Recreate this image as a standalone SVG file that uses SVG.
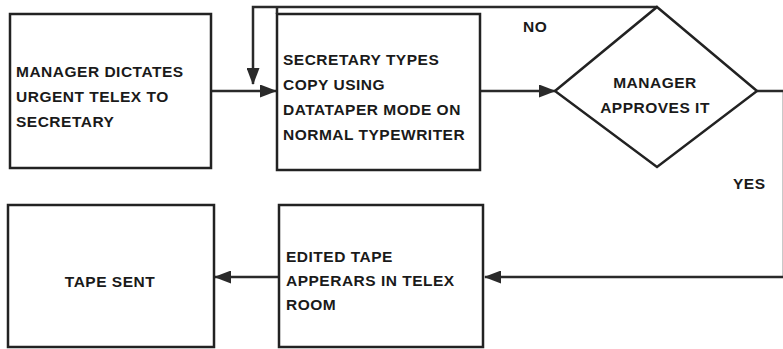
<svg xmlns="http://www.w3.org/2000/svg" width="783" height="349" viewBox="0 0 783 349">
  <style>
    .box { fill: #ffffff; stroke: #222; stroke-width: 2.5; }
    .wire { fill: none; stroke: #2a2a2a; stroke-width: 2.5; }
    .lbl { font-family: "Liberation Sans", Arial, sans-serif; font-weight: bold; font-size: 15.5px; letter-spacing: 0.5px; fill: #1a1a1a; }
    .mid { text-anchor: middle; }
  </style>
  <defs>
    <marker id="head" viewBox="0 0 17 13" refX="16" refY="6.5" markerWidth="17" markerHeight="13" markerUnits="userSpaceOnUse" orient="auto">
      <path d="M0,0 L17,6.5 L0,13 Z" fill="#2a2a2a"/>
    </marker>
  </defs>

  <rect width="783" height="349" fill="#ffffff"/>

  <g id="connectors">
    <!-- dictation to typing -->
    <line class="wire" x1="211" y1="91" x2="276" y2="91" marker-end="url(#head)"/>
    <!-- typing to approval -->
    <line class="wire" x1="480" y1="91" x2="555" y2="91" marker-end="url(#head)"/>
    <!-- rejection loop back over the top -->
    <path class="wire" d="M657,7 H253 V84" marker-end="url(#head)"/>
    <!-- approval path down the right side (mostly past the edge) -->
    <path class="wire" d="M757,91 H784 V277 H485" marker-end="url(#head)"/>
    <!-- telex room to sent -->
    <line class="wire" x1="279" y1="277" x2="215" y2="277" marker-end="url(#head)"/>
    <text class="lbl" x="523" y="32">NO</text>
    <text class="lbl" x="733" y="189">YES</text>
  </g>

  <g id="dictate">
    <rect class="box" x="10" y="14" width="201" height="154"/>
    <text class="lbl" x="16" y="77">MANAGER DICTATES</text>
    <text class="lbl" x="16" y="102">URGENT TELEX TO</text>
    <text class="lbl" x="16" y="127">SECRETARY</text>
  </g>

  <g id="types">
    <rect class="box" x="277" y="14" width="203" height="156"/>
    <line class="wire" x1="277" y1="7" x2="277" y2="14"/>
    <text class="lbl" x="283" y="65">SECRETARY TYPES</text>
    <text class="lbl" x="283" y="90">COPY USING</text>
    <text class="lbl" x="283" y="115">DATATAPER MODE ON</text>
    <text class="lbl" x="283" y="140">NORMAL TYPEWRITER</text>
  </g>

  <g id="approves">
    <polygon class="box" points="657,7 757,91 657,167 555,91"/>
    <text class="lbl mid" x="655" y="88">MANAGER</text>
    <text class="lbl mid" x="655" y="113">APPROVES IT</text>
  </g>

  <g id="telex-room">
    <rect class="box" x="279" y="205" width="204" height="142"/>
    <text class="lbl" x="286" y="262">EDITED TAPE</text>
    <text class="lbl" x="286" y="286">APPERARS IN TELEX</text>
    <text class="lbl" x="286" y="310">ROOM</text>
  </g>

  <g id="sent">
    <rect class="box" x="8" y="205" width="206" height="142"/>
    <text class="lbl mid" x="110" y="287">TAPE SENT</text>
  </g>
</svg>
